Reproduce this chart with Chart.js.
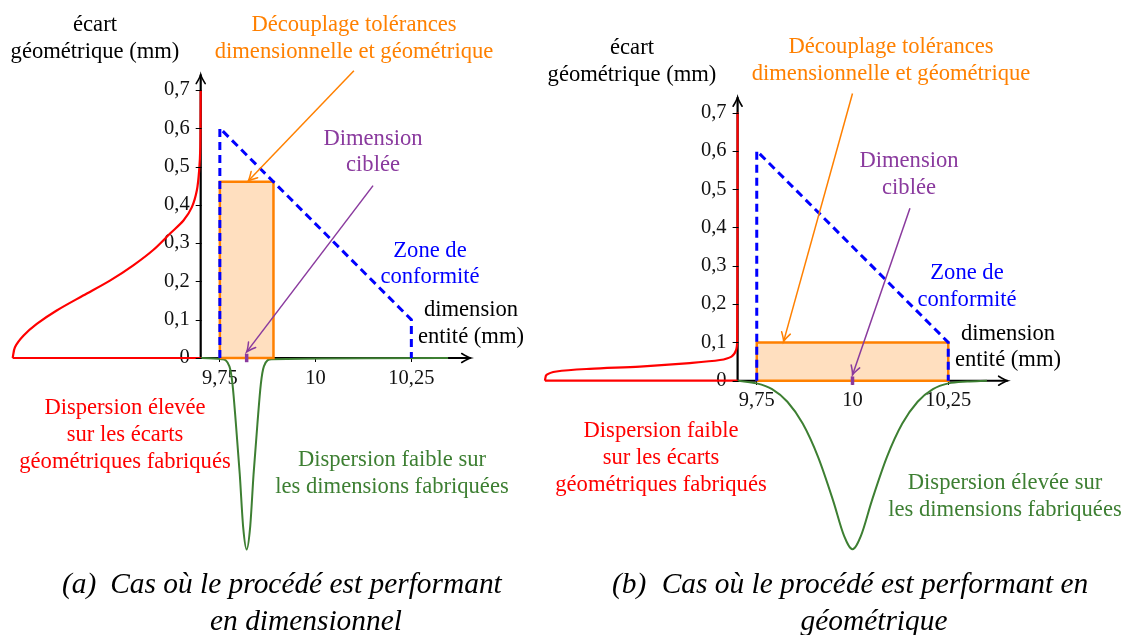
<!DOCTYPE html>
<html>
<head>
<meta charset="utf-8">
<script src="https://cdn.jsdelivr.net/npm/chart.js@4.4.1/dist/chart.umd.min.js"></script>
<style>
  body { margin: 0; background: #fff; width: 1128px; height: 635px; overflow: hidden; position: relative; }
  canvas { position: absolute; top: 0; }
  .cap { position: absolute; font-family: 'Liberation Serif', serif; font-style: italic; font-size: 29.4px;
         line-height: 36px; color: #000; white-space: nowrap; }
  .line { width: 600px; text-align: center; }
</style>
</head>
<body>
<canvas id="chartA" width="540" height="635" style="left:0"></canvas>
<canvas id="chartB" width="588" height="635" style="left:540px"></canvas>

<div class="cap" style="left:62px;top:565px">(a)</div>
<div class="cap line" style="left:6px;top:565px">Cas où le procédé est performant</div>
<div class="cap line" style="left:6px;top:602px">en dimensionnel</div>
<div class="cap" style="left:612px;top:565px">(b)</div>
<div class="cap line" style="left:575px;top:565px">Cas où le procédé est performant en</div>
<div class="cap line" style="left:574px;top:602px">géométrique</div>

<script>
// axes
const xTicks = [9.75, 10, 10.25];
const yTicks = [0, 0.1, 0.2, 0.3, 0.4, 0.5, 0.6, 0.7];
const axisOrigin = 9.70;
const axisEndX = 10.405;
const axisEndY = 0.74;

// zone de conformité (same in both panels)
const zoneX = [9.75, 9.75, 10.25, 10.25];
const zoneY = [0, 0.6, 0.1, 0];

// (a) procédé performant en dimensionnel
const rectXA = [9.75, 9.75, 9.89, 9.89, 9.75];
const rectYA = [0, 0.46, 0.46, 0, 0];
const targetA = 9.82;
const redXA = [9.209, 9.215, 9.237, 9.272, 9.324, 9.393, 9.463, 9.524, 9.576, 9.620, 9.655, 9.677, 9.690, 9.696, 9.699, 9.700];
const redYA = [0, 0.028, 0.058, 0.089, 0.124, 0.163, 0.202, 0.242, 0.282, 0.325, 0.359, 0.394, 0.438, 0.490, 0.551, 0.700];
const greenXA = [9.70, 9.755, 9.775, 9.783, 9.792, 9.802, 9.811, 9.820, 9.829, 9.838, 9.848, 9.857, 9.865, 9.885, 10.346];
const greenYA = [0, -0.003, -0.022, -0.068, -0.173, -0.304, -0.443, -0.50, -0.443, -0.304, -0.173, -0.068, -0.022, -0.003, 0];
const orangeArrowA = [[10.10, 0.75], [9.824, 0.462]];
const purpleArrowA = [[10.15, 0.45], [9.82, 0.016]];

// (b) procédé performant en géométrique
const rectXB = [9.75, 9.75, 10.25, 10.25, 9.75];
const rectYB = [0, 0.1, 0.1, 0, 0];
const targetB = 10;
const redXB = [9.197, 9.201, 9.227, 9.314, 9.445, 9.575, 9.654, 9.684, 9.696, 9.699, 9.700];
const redYB = [0, 0.015, 0.024, 0.031, 0.037, 0.046, 0.054, 0.063, 0.080, 0.107, 0.700];
const greenXB = [9.70, 9.75, 9.79, 9.83, 9.87, 9.91, 9.95, 9.978, 10.0, 10.022, 10.05, 10.09, 10.13, 10.17, 10.21, 10.25, 10.30, 10.351];
const greenYB = [0, -0.007, -0.022, -0.055, -0.112, -0.199, -0.315, -0.405, -0.44, -0.405, -0.315, -0.199, -0.112, -0.055, -0.022, -0.007, -0.002, 0];
const orangeArrowB = [[10.0, 0.75], [9.82, 0.102]];
const purpleArrowB = [[10.15, 0.45], [10.0, 0.015]];

const RED = '#ff0000', BLUE = '#0000ff', ORANGE = '#ff8000', GREEN = '#3d7f32', PURPLE = '#8a3a9e';
const PX = 383;        // pixels per unit, both axes
const Y_LABEL_GAP = 11; // px between y axis and its labels
const SERIF = "'Liberation Serif', serif";

const pts = (xs, ys) => xs.map((x, i) => ({ x: x, y: ys[i] }));

function arrowHead(ctx, from, to, len, half, color, width) {
  const a = Math.atan2(to.y - from.y, to.x - from.x);
  const c = Math.cos(a), s = Math.sin(a);
  ctx.save();
  ctx.strokeStyle = color;
  ctx.lineWidth = width;
  ctx.lineCap = 'round';
  ctx.beginPath();
  ctx.moveTo(to.x - len * c + half * s, to.y - len * s - half * c);
  ctx.quadraticCurveTo(to.x - len * 0.3 * c + half * 0.15 * s, to.y - len * 0.3 * s - half * 0.15 * c, to.x, to.y);
  ctx.quadraticCurveTo(to.x - len * 0.3 * c - half * 0.15 * s, to.y - len * 0.3 * s + half * 0.15 * c,
                       to.x - len * c - half * s, to.y - len * s + half * c);
  ctx.stroke();
  ctx.restore();
}

const decor = {
  id: 'decor',
  afterDatasetsDraw(chart) {
    const ctx = chart.ctx;
    // small tick marks on the y axis
    const xs = chart.scales.x, ys = chart.scales.y;
    const ax = xs.getPixelForValue(axisOrigin);
    ctx.save();
    ctx.strokeStyle = '#000';
    ctx.lineWidth = 1;
    yTicks.forEach(v => {
      const py = Math.round(ys.getPixelForValue(v)) + 0.5;
      ctx.beginPath();
      ctx.moveTo(ax - 5, py);
      ctx.lineTo(ax + 1, py);
      ctx.stroke();
    });
    ctx.restore();

    chart.data.datasets.forEach((ds, i) => {
      if (!ds.head) return;
      const p = chart.getDatasetMeta(i).data;
      const n = p.length;
      arrowHead(ctx, p[n - 2], p[n - 1], ds.head[0], ds.head[1], ds.borderColor, ds.head[2]);
    });
  },
  afterDraw(chart) {
    const ctx = chart.ctx;
    const o = chart.options.plugins.decor;
    ctx.save();
    ctx.font = '22.6px ' + SERIF;
    ctx.textAlign = 'center';
    ctx.textBaseline = 'middle';
    o.labels.forEach(l => {
      ctx.fillStyle = l[0];
      ctx.fillText(l[1], l[2] - o.left, l[3] + 2);
    });
    ctx.restore();
  }
};

function makeChart(id, p) {
  const xmin = axisOrigin - p.originX / PX;
  const ymax = p.originY / PX;
  const noPad = s => { s.paddingTop = 0; s.paddingBottom = 0; s.paddingLeft = 0; s.paddingRight = 0; };
  const fmt = v => String(v).replace('.', ',');
  const line = (data, color, width, order, extra) => Object.assign({
    data: data, borderColor: color, borderWidth: width, showLine: true, pointRadius: 0,
    pointHoverRadius: 0, fill: false, tension: 0, order: order
  }, extra || {});

  return new Chart(document.getElementById(id), {
    type: 'scatter',
    data: {
      datasets: [
        line(pts(p.rectX, p.rectY), ORANGE, 2.5, 7, { fill: 'shape', backgroundColor: '#ffdfbf', borderJoinStyle: 'miter' }),
        line([{ x: axisOrigin, y: 0 }, { x: axisEndX, y: 0 }], '#000', 2, 9, { head: [9, 4.5, 1.6] }),
        line([{ x: axisOrigin, y: 0 }, { x: axisOrigin, y: axisEndY }], '#000', 2.2, 9, { head: [9, 4.5, 1.6] }),
        line(pts(p.greenX, p.greenY), GREEN, 2, 8, { cubicInterpolationMode: 'monotone' }),
        line([{ x: p.redX[0], y: 0 }, { x: axisOrigin, y: 0 }], RED, 2.2, 6),
        line(pts(p.redX, p.redY), RED, 2.2, 6, { tension: 0.3 }),
        line(pts(zoneX, zoneY), BLUE, 3, 5, { borderDash: [8, 5], borderJoinStyle: 'miter' }),
        line(p.orangeArrow.map(a => ({ x: a[0], y: a[1] })), ORANGE, 1.5, 4, { head: [9, 4.5, 1.5] }),
        line(p.purpleArrow.map(a => ({ x: a[0], y: a[1] })), PURPLE, 1.5, 4, { head: [9, 4.5, 1.5] }),
        line([{ x: p.target, y: -0.011 }, { x: p.target, y: 0.011 }], PURPLE, 3.5, 3)
      ]
    },
    options: {
      responsive: false,
      animation: false,
      events: [],
      layout: { padding: 0 },
      plugins: {
        legend: { display: false },
        tooltip: { enabled: false },
        decor: { left: p.left, labels: p.labels }
      },
      scales: {
        x: {
          type: 'linear', min: xmin, max: xmin + p.w / PX,
          position: { y: 0 },
          afterFit: noPad,
          afterBuildTicks: s => { s.ticks = xTicks.map(v => ({ value: v })); },
          grid: { drawOnChartArea: false, drawTicks: true, tickLength: 4, color: '#000' },
          border: { display: false },
          ticks: { color: '#111', padding: 4, font: { family: SERIF, size: 20.5 }, callback: fmt }
        },
        y: {
          type: 'linear', min: ymax - p.h / PX, max: ymax,
          // labels are right-aligned on this line, just left of the drawn axis
          position: { x: axisOrigin - Y_LABEL_GAP / PX },
          afterFit: noPad,
          afterBuildTicks: s => { s.ticks = yTicks.map(v => ({ value: v })); },
          grid: { display: false },
          border: { display: false },
          ticks: { color: '#111', padding: 0, font: { family: SERIF, size: 20.5 }, callback: fmt }
        }
      }
    },
    plugins: [decor]
  });
}

makeChart('chartA', {
  left: 0, w: 540, h: 635, originX: 200.7, originY: 358,
  rectX: rectXA, rectY: rectYA, target: targetA,
  redX: redXA, redY: redYA, greenX: greenXA, greenY: greenYA,
  orangeArrow: orangeArrowA, purpleArrow: purpleArrowA,
  labels: [
    ['#000', 'écart', 95, 23], ['#000', 'géométrique (mm)', 95, 50],
    [ORANGE, 'Découplage tolérances', 354, 23], [ORANGE, 'dimensionnelle et géométrique', 354, 50],
    [PURPLE, 'Dimension', 373, 137], [PURPLE, 'ciblée', 373, 163],
    [BLUE, 'Zone de', 430, 249], [BLUE, 'conformité', 430, 275],
    ['#000', 'dimension', 471, 308], ['#000', 'entité (mm)', 471, 335],
    [RED, 'Dispersion élevée', 125, 406], [RED, 'sur les écarts', 125, 433], [RED, 'géométriques fabriqués', 125, 460],
    [GREEN, 'Dispersion faible sur', 392, 458], [GREEN, 'les dimensions fabriquées', 392, 485]
  ]
});

makeChart('chartB', {
  left: 540, w: 588, h: 635, originX: 197.6, originY: 380.7,
  rectX: rectXB, rectY: rectYB, target: targetB,
  redX: redXB, redY: redYB, greenX: greenXB, greenY: greenYB,
  orangeArrow: orangeArrowB, purpleArrow: purpleArrowB,
  labels: [
    ['#000', 'écart', 632, 46], ['#000', 'géométrique (mm)', 632, 73],
    [ORANGE, 'Découplage tolérances', 891, 45], [ORANGE, 'dimensionnelle et géométrique', 891, 72],
    [PURPLE, 'Dimension', 909, 159], [PURPLE, 'ciblée', 909, 186],
    [BLUE, 'Zone de', 967, 271], [BLUE, 'conformité', 967, 298],
    ['#000', 'dimension', 1008, 332], ['#000', 'entité (mm)', 1008, 358],
    [RED, 'Dispersion faible', 661, 429], [RED, 'sur les écarts', 661, 456], [RED, 'géométriques fabriqués', 661, 483],
    [GREEN, 'Dispersion élevée sur', 1005, 481], [GREEN, 'les dimensions fabriquées', 1005, 508]
  ]
});
</script>
</body>
</html>
